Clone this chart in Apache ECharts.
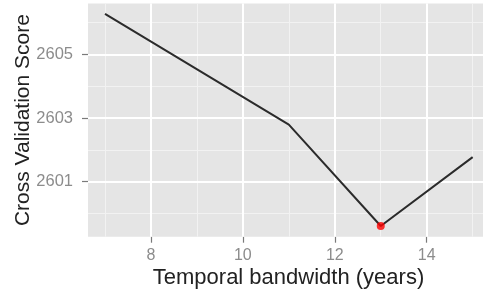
<!DOCTYPE html>
<html>
<head>
<meta charset="utf-8">
<script src="https://cdn.jsdelivr.net/npm/echarts@6/dist/echarts.min.js"></script>
<style>
html,body{margin:0;padding:0;background:#fff;}
#c{width:486px;height:296px;}
</style>
</head>
<body>
<div id="c"></div>
<script>
// Data
const bandwidth = [7, 11, 13, 15];
const cvScore = [2606.27, 2602.79, 2599.61, 2601.77];
const bestPoint = [[13, 2599.61]];
const xTicks = [8, 10, 12, 14];
const yTicks = [2601, 2603, 2605];
const xMinor = [7, 9, 11, 13, 15];
const yMinor = [2600, 2602, 2604, 2606];
const xTitle = 'Temporal bandwidth (years)';
const yTitle = 'Cross Validation Score';

const font = 'Liberation Sans, Arial, sans-serif';
const chart = echarts.init(document.getElementById('c'), null, {renderer: 'canvas'});

function vLines(vals, axis) {
  return vals.map(v => (axis === 'x' ? {xAxis: v} : {yAxis: v}));
}

chart.setOption({
  animation: false,
  backgroundColor: '#ffffff',
  grid: {
    left: 88, right: 3, top: 3.5, bottom: 59.3,
    containLabel: false, outerBoundsMode: 'none',
    show: true, backgroundColor: '#E5E5E5', borderWidth: 0
  },
  xAxis: {
    type: 'value', min: 6.63, max: 15.225,
    name: xTitle, nameLocation: 'middle', nameGap: 30, nameMoveOverlap: false,
    nameTextStyle: {fontFamily: font, fontSize: 22, color: '#222', padding: [0, 0, 0, 6]},
    axisLine: {show: false},
    axisTick: {show: true, customValues: xTicks, length: 6, lineStyle: {color: '#7a7a7a', width: 1.2}},
    axisLabel: {customValues: xTicks, margin: 11, fontFamily: font, fontSize: 16, color: '#8c8c8c',
      formatter: v => String(v)},
    splitLine: {show: false}
  },
  yAxis: {
    type: 'value', min: 2599.273, max: 2606.595,
    name: yTitle, nameLocation: 'middle', nameGap: 54, nameRotate: 90, nameMoveOverlap: false,
    nameTextStyle: {fontFamily: font, fontSize: 21, color: '#222'},
    axisLine: {show: false},
    axisTick: {show: true, customValues: yTicks, length: 6, lineStyle: {color: '#7a7a7a', width: 1.2}},
    axisLabel: {customValues: yTicks, margin: 15, fontFamily: font, fontSize: 16.5, color: '#8c8c8c',
      formatter: v => String(Math.round(v))},
    splitLine: {show: false}
  },
  series: [
    {
      type: 'line', data: [], silent: true, z: 1,
      markLine: {
        silent: true, symbol: 'none', label: {show: false},
        lineStyle: {color: '#F2F2F2', width: 1, type: 'solid'},
        data: vLines(xMinor, 'x').concat(vLines(yMinor, 'y'))
      }
    },
    {
      type: 'line', data: [], silent: true, z: 2,
      markLine: {
        silent: true, symbol: 'none', label: {show: false},
        lineStyle: {color: '#FFFFFF', width: 2, type: 'solid'},
        data: vLines(xTicks, 'x').concat(vLines(yTicks, 'y'))
      }
    },
    {
      type: 'line', z: 5,
      data: bandwidth.map((x, i) => [x, cvScore[i]]),
      showSymbol: false, symbol: 'none',
      lineStyle: {color: '#2b2b2b', width: 2}
    },
    {
      type: 'scatter', z: 6,
      data: bestPoint,
      symbolSize: 8,
      itemStyle: {color: '#FF0000'}
    }
  ]
});
</script>
</body>
</html>
